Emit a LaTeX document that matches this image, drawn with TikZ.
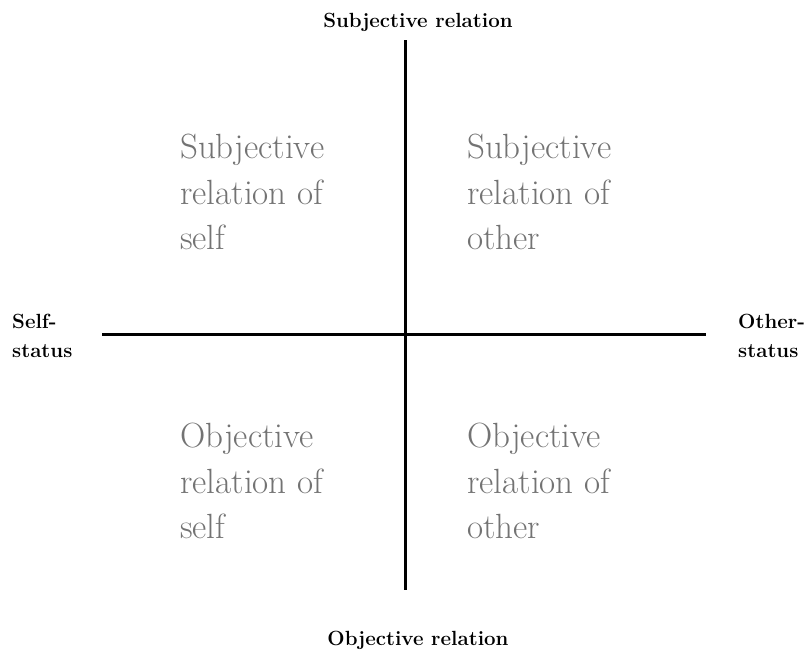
\documentclass[tikz,border=0pt]{standalone}
\usepackage{fontspec}
\begin{document}
\begin{tikzpicture}[x=1pt,y=-1pt,
  axis/.style={line width=3pt,black},
  axlabel/.style={font=\fontsize{20.5}{29}\selectfont\bfseries,inner sep=0pt,align=left},
  quad/.style={font=\fontsize{35}{45.5}\selectfont,text=black!55,inner sep=0pt,align=left,anchor=west}]
\useasboundingbox (0,0) rectangle (810,657);
\coordinate (top) at (405,40);
\coordinate (bot) at (405,590);
\coordinate (lft) at (102,334);
\coordinate (rgt) at (706,334);
\draw[axis] (top) -- (bot);
\draw[axis] (lft) -- (rgt);
\node[axlabel] (tl) at (418,22) {Subjective relation};
\node[axlabel] (bl) at (418,640) {Objective relation};
\node[axlabel,anchor=west] (ll) at (12,336) {Self-\\status};
\node[axlabel,anchor=west] (rl) at (738,336) {Other-\\status};
\node[quad] (q1) at (180,192) {Subjective\\relation of\\self};
\node[quad] (q2) at (467,192) {Subjective\\relation of\\other};
\node[quad] (q3) at (180,481) {Objective\\relation of\\self};
\node[quad] (q4) at (467,481) {Objective\\relation of\\other};
\end{tikzpicture}
\end{document}
